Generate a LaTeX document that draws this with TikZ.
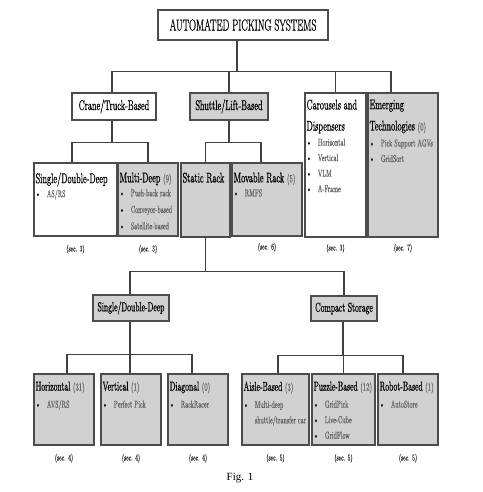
\documentclass[tikz,border=0pt]{standalone}
\usepackage{fontspec}
\usepackage{graphicx}
\setmainfont{Latin Modern Roman}[FakeBold=0.4]
\newfontfamily\hfont{Latin Modern Roman}[FakeBold=1.2]
\newfontfamily\figfont{Liberation Serif}
\usetikzlibrary{positioning}
\usetikzlibrary{calc}

\definecolor{boxgray}{gray}{0.82}
\definecolor{txtgray}{gray}{0.38}

% narrow text, as in the figure
\newcommand{\nar}[1]{\scalebox{0.6}[1]{#1}}
\newcommand{\hd}{\hfont\fontsize{14}{16}\selectfont}
\newcommand{\hdb}{\hfont\fontsize{13}{16}\selectfont}
\newcommand{\sm}{\fontsize{10}{12}\selectfont}
\newcommand{\cnt}[1]{{\rmfamily\fontsize{11}{13}\selectfont\color{txtgray}(#1)}}
\newcommand{\itm}[1]{\textbullet\hspace{1.1em}{\color{txtgray}#1}}
\newcommand{\itmc}[1]{\phantom{\textbullet}\hspace{1.1em}{\color{txtgray}#1}}

\begin{document}
\begin{tikzpicture}[x=1pt, y=-1pt,
    wbox/.style={draw=black!70, line width=1.2pt, fill=white, inner sep=0pt},
    gbox/.style={wbox, fill=boxgray},
    conn/.style={draw=black!75, line width=1.1pt},
    txt/.style={anchor=north west, inner sep=0pt, xshift=2pt, yshift=#1},
    txt/.default=-7pt,
    sec/.style={inner sep=0pt, font=\fontsize{9}{11}\selectfont, text=black!80}]
      \useasboundingbox (0,0) rectangle (482,492);

      % Top of the tree
      \node[wbox, minimum width=170pt, minimum height=30pt] (root) at (243,25)
        {\nar{\hfont\fontsize{16}{18}\selectfont AUTOMATED PICKING SYSTEMS}};

      % First level
      \node[wbox, minimum width=84pt, minimum height=27pt] (crane) at (114,106.5)
        {\nar{\hfont\fontsize{14}{16}\selectfont Crane/Truck-Based}};
      \node[gbox, minimum width=78pt, minimum height=27pt] (shuttle) at (229,106.5)
        {\nar{\hfont\fontsize{14}{16}\selectfont Shuttle/Lift-Based}};
      \node[wbox, minimum width=61pt, minimum height=144pt] (carou) at (335.5,165) {};
      \node[gbox, minimum width=70pt, minimum height=144pt] (emerg) at (403,165) {};

      % Second level
      \node[wbox, minimum width=83pt, minimum height=73pt] (sdd) at (75.5,199.5) {};
      \node[gbox, minimum width=60pt, minimum height=73pt] (multi) at (148,199.5) {};
      \node[gbox, minimum width=49pt, minimum height=74pt] (static) at (205.5,200) {};
      \node[gbox, minimum width=70pt, minimum height=73pt] (movable) at (267,199.5) {};

      % Under the static rack
      \node[gbox, minimum width=76pt, minimum height=26pt] (sddst) at (131,308)
        {\nar{\hfont\fontsize{13}{15}\selectfont Single/Double-Deep}};
      \node[gbox, minimum width=66pt, minimum height=25pt] (compact) at (344,308.5)
        {\nar{\hfont\fontsize{13}{15}\selectfont Compact Storage}};

      % Bottom level
      \node[gbox, minimum width=60pt, minimum height=71pt] (horiz) at (64,409.5) {};
      \node[gbox, minimum width=60pt, minimum height=71pt] (vert) at (131,409.5) {};
      \node[gbox, minimum width=60pt, minimum height=71pt] (diag) at (198,409.5) {};
      \node[gbox, minimum width=67pt, minimum height=71pt] (aisle) at (275.5,409.5) {};
      \node[gbox, minimum width=63pt, minimum height=71pt] (puzzle) at (343.5,409.5) {};
      \node[gbox, minimum width=60pt, minimum height=71pt] (robot) at (408,409.5) {};

      % Box texts
      \node[txt] (carou-t) at (carou.north west) {\nar{\begin{tabular}{@{}l@{}}
          \hd Carousels and\\[8pt] \hd Dispensers\\[3pt]
          \sm\itm{Horizontal}\\[3.5pt] \sm\itm{Vertical}\\[3.5pt]
          \sm\itm{VLM}\\[3.5pt] \sm\itm{A-Frame}\end{tabular}}};
      \node[txt] (emerg-t) at (emerg.north west) {\nar{\begin{tabular}{@{}l@{}}
          \hd Emerging\\[8pt] \hd Technologies \cnt{0}\\[4pt]
          \sm\itm{Pick Support AGVs}\\[3.5pt] \sm\itm{GridSort}\end{tabular}}};
      \node[txt=-10pt] (sdd-t) at (sdd.north west) {\nar{\begin{tabular}{@{}l@{}}
          \hd Single/Double-Deep\\[2pt] \sm\itm{AS/RS}\end{tabular}}};
      \node[txt=-10pt] (multi-t) at (multi.north west) {\nar{\begin{tabular}{@{}l@{}}
          \hd Multi-Deep \cnt{9}\\[2pt] \sm\itm{Push-back rack}\\[4.5pt]
          \sm\itm{Conveyor-based}\\[4.5pt] \sm\itm{Satellite-based}\end{tabular}}};
      \node[txt=-10pt] (static-t) at (static.north west) {\nar{\hd Static Rack}};
      \node[txt=-10pt] (movable-t) at (movable.north west) {\nar{\begin{tabular}{@{}l@{}}
          \hd Movable Rack \cnt{5}\\[2pt] \sm\itm{RMFS}\end{tabular}}};
      \node[txt=-8pt] (horiz-t) at (horiz.north west) {\nar{\begin{tabular}{@{}l@{}}
          \hdb Horizontal \cnt{31}\\[5pt] \sm\itm{AVS/RS}\end{tabular}}};
      \node[txt=-8pt] (vert-t) at (vert.north west) {\nar{\begin{tabular}{@{}l@{}}
          \hdb Vertical \cnt{1}\\[5pt] \sm\itm{Perfect Pick}\end{tabular}}};
      \node[txt=-8pt] (diag-t) at (diag.north west) {\nar{\begin{tabular}{@{}l@{}}
          \hdb Diagonal \cnt{0}\\[5pt] \sm\itm{RackRacer}\end{tabular}}};
      \node[txt=-8pt] (aisle-t) at (aisle.north west) {\nar{\begin{tabular}{@{}l@{}}
          \hdb Aisle-Based \cnt{3}\\[5pt] \sm\itm{Multi-deep}\\[3.5pt]
          \sm\itmc{shuttle/transfer car}\end{tabular}}};
      \node[txt=-8pt] (puzzle-t) at (puzzle.north west) {\nar{\begin{tabular}{@{}l@{}}
          \hdb Puzzle-Based \cnt{12}\\[5pt] \sm\itm{GridPick}\\[3.5pt]
          \sm\itm{Live-Cube}\\[3.5pt] \sm\itm{GridFlow}\end{tabular}}};
      \node[txt=-8pt] (robot-t) at (robot.north west) {\nar{\begin{tabular}{@{}l@{}}
          \hdb Robot-Based \cnt{1}\\[5pt] \sm\itm{AutoStore}\end{tabular}}};

      % Section labels
      \node[sec, below=8pt of sdd] (sec-sdd) {\nar{(sec. 3)}};
      \node[sec, below=8pt of multi] (sec-multi) {\nar{(sec. 3)}};
      \node[sec, below=6pt of movable] (sec-movable) {\nar{(sec. 6)}};
      \node[sec, below=6pt of carou] (sec-carou) {\nar{(sec. 3)}};
      \node[sec, below=6pt of emerg] (sec-emerg) {\nar{(sec. 7)}};
      \foreach \b/\s in {horiz/4, vert/4, diag/4, aisle/5, puzzle/5, robot/5} {
        \node[sec, below=8pt of \b] (sec-\b) {\nar{(sec. \s)}};
      }

      % Connectors
      \draw[conn] ([xshift=-6pt]root.south) -- ++(0,31) coordinate (b1);
      \draw[conn] ([xshift=-2pt]crane.north) |- (b1) -| ([xshift=-12pt]emerg.north);
      \draw[conn] (shuttle.north) -- (shuttle.north |- b1);
      \draw[conn] (carou.north) -- (carou.north |- b1);

      \draw[conn] ([xshift=-2pt]crane.south) -- ++(0,22) coordinate (b2);
      \draw[conn] ([xshift=-3.5pt]sdd.north) |- (b2) -| (multi.north);

      \draw[conn] (shuttle.south) -- ++(0,22) coordinate (b3);
      \draw[conn] (static.north) |- (b3) -| ([xshift=-6pt]movable.north);

      \draw[conn] (static.south) -- ++(0,34) coordinate (b4);
      \draw[conn] ([xshift=-1pt]sddst.north) |- (b4) -| (compact.north);

      \draw[conn] ([xshift=-1pt]sddst.south) -- ++(0,33) coordinate (b5);
      \draw[conn] ([xshift=3pt]horiz.north) |- (b5) -| ([xshift=-6pt]diag.north);
      \draw[conn] ([xshift=-1pt]vert.north) -- ([xshift=-1pt]vert.north |- b5);

      \draw[conn] ([xshift=-1pt]compact.south) -- ++(0,34) coordinate (b6);
      \draw[conn] ([xshift=2.5pt]aisle.north) |- (b6) -| ([xshift=-5pt]robot.north);
      \draw[conn] (puzzle.north) -- (puzzle.north |- b6);

      % Caption
      \node[font=\figfont\fontsize{11}{13}\selectfont] (fig) at (240,478) {Fig. 1};
\end{tikzpicture}
\end{document}
